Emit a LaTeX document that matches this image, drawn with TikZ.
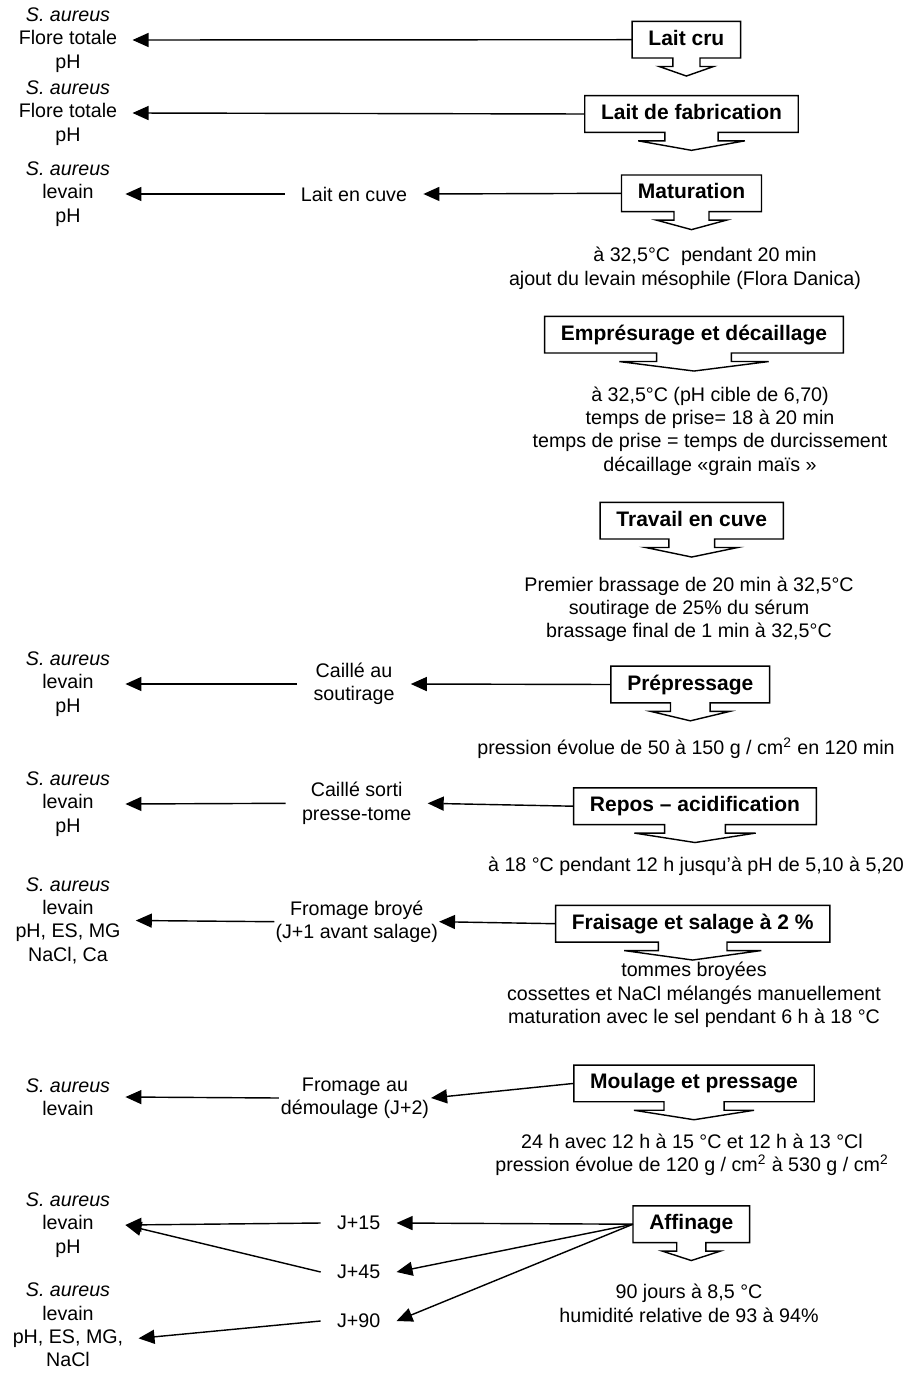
\documentclass[tikz,border=0pt]{standalone}
\usepackage{fontspec}
\setmainfont{Liberation Sans}
\usetikzlibrary{arrows.meta,calc}

\tikzset{
  stepbox/.style={font=\fontsize{12.6}{14}\selectfont\bfseries, inner xsep=9.6pt, inner ysep=0pt,
    minimum height=21.6pt, text height=9.2pt, text depth=2.6pt},
  note/.style={font=\fontsize{11.8}{14}\selectfont, align=center, inner sep=0pt},
  sample/.style={font=\fontsize{11.8}{14}\selectfont, align=center, inner xsep=9.6pt, inner ysep=0pt},
  result/.style={font=\fontsize{11.8}{14}\selectfont, align=center, inner xsep=9pt, inner ysep=0pt},
  outline/.style={line width=0.85pt},
  arr/.style={line width=0.85pt, -{Triangle[length=9.6pt,width=8.4pt]}}
}

\begin{document}
\begin{tikzpicture}[x=0.6pt, y=-0.6pt]
                \useasboundingbox (0,0) rectangle (905,1373);

                % Process steps
                \node[stepbox] (cru) at (686.4,39.7) {Lait cru};
                \node[stepbox] (fab) at (691.5,114) {Lait de fabrication};
                \node[stepbox] (mat) at (691.5,193.3) {Maturation};
                \node[stepbox] (emp) at (694,334.7) {Emprésurage et décaillage};
                \node[stepbox] (trav) at (691.7,520.7) {Travail en cuve};
                \node[stepbox] (prep) at (690.3,684.5) {Prépressage};
                \node[stepbox] (repos) at (695,806.2) {Repos – acidification};
                \node[stepbox] (frais) at (692.7,923.7) {Fraisage et salage à 2 \%};
                \node[stepbox] (moul) at (694,1083.4) {Moulage et pressage};
                \node[stepbox] (aff) at (691.3,1224.2) {Affinage};

                % Box outlines with the down arrow
                \foreach \b in {cru,fab,mat,emp,trav,prep,repos,frais,moul,aff}
                  \draw[outline] ($(\b.south)!0.25!(\b.south east)$) -- (\b.south east) -- (\b.north east)
                    -- (\b.north west) -- (\b.south west) -- ($(\b.south)!0.25!(\b.south west)$) -- ++(0,8.5)
                    -- ($(\b.south)!0.5!(\b.south west)+(0,8.5)$) -- ($(\b.south)+(0,18)$)
                    -- ($(\b.south)!0.5!(\b.south east)+(0,8.5)$) -- ($(\b.south)!0.25!(\b.south east)+(0,8.5)$) -- cycle;

                % Conditions of each step
                \node[note] (matnote) at (685,268.3) {\hspace*{24pt}à 32,5°C\ \ pendant 20 min\\ajout du levain mésophile (Flora Danica)};
                \node[note] (empnote) at (710,431) {à 32,5°C (pH cible de 6,70)\\temps de prise= 18 à 20 min\\temps de prise = temps de durcissement\\décaillage «grain maïs »};
                \node[note] (travnote) at (689,609.3) {Premier brassage de 20 min à 32,5°C\\soutirage de 25\% du sérum\\brassage final de 1 min à 32,5°C};
                \node[note] (prepnote) at (686,748.3) {pression évolue de 50 à 150 g / cm\textsuperscript{2} en 120 min};
                \node[note] (reposnote) at (696,866) {à 18 °C pendant 12 h jusqu’à pH de 5,10 à 5,20};
                \node[note] (fraisnote) at (694,995) {tommes broyées\\cossettes et NaCl mélangés manuellement\\maturation avec le sel pendant 6 h à 18 °C};
                \node[note] (moulnote) at (692,1155) {24 h avec 12 h à 15 °C et 12 h à 13 °Cl\\pression évolue de 120 g / cm\textsuperscript{2} à 530 g / cm\textsuperscript{2}};
                \node[note] (affnote) at (689,1303.5) {90 jours à 8,5 °C\\humidité relative de 93 à 94\%};

                % Samples taken
                \node[sample] (cuve) at (354,194) {Lait en cuve};
                \node[sample] (soutir) at (354,684) {Caillé au\\soutirage};
                \node[sample] (tome) at (356.7,803.3) {Caillé sorti\\presse-tome};
                \node[sample, inner xsep=0.5pt] (broye) at (356.7,921.7) {Fromage broyé\\(J+1 avant salage)};
                \node[sample, inner xsep=1pt] (demoul) at (355,1098) {Fromage au\\démoulage (J+2)};
                \node[sample] (j15) at (358.6,1223) {J+15};
                \node[sample] (j45) at (358.6,1272) {J+45};
                \node[sample] (j90) at (358.6,1321) {J+90};

                % Analyses
                \node[result] (ana1) at (68,40) {\textit{S. aureus}\\Flore totale\\pH};
                \node[result] (ana2) at (68,113) {\textit{S. aureus}\\Flore totale\\pH};
                \node[result] (ana3) at (68,194) {\textit{S. aureus}\\levain\\pH};
                \node[result] (ana4) at (68,684) {\textit{S. aureus}\\levain\\pH};
                \node[result] (ana5) at (68,804) {\textit{S. aureus}\\levain\\pH};
                \node[result] (ana6) at (68,920.5) {\textit{S. aureus}\\levain\\pH, ES, MG\\NaCl, Ca};
                \node[result] (ana7) at (68,1097) {\textit{S. aureus}\\levain};
                \node[result] (ana8) at (68,1225) {\textit{S. aureus}\\levain\\pH};
                \node[result] (ana9) at (68,1325) {\textit{S. aureus}\\levain\\pH, ES, MG,\\NaCl};

                % Arrows
                \draw[arr] (cru.west) -- (ana1.east);
                \draw[arr] (fab.west) -- (ana2.east);
                \draw[arr] (mat.west) -- (cuve.east);
                \draw[arr] (cuve.west) -- (ana3.east);
                \draw[arr] (prep.west) -- (soutir.east);
                \draw[arr] (soutir.west) -- (ana4.east);
                \draw[arr] (repos.west) -- (tome.east);
                \draw[arr] (tome.west) -- (ana5.east);
                \draw[arr] (frais.west) -- (broye.east);
                \draw[arr] (broye.west) -- (ana6.east);
                \draw[arr] (moul.west) -- (demoul.east);
                \draw[arr] (demoul.west) -- (ana7.east);
                \draw[arr] (aff.west) -- (j15.east);
                \draw[arr] (aff.west) -- (j45.east);
                \draw[arr] (aff.west) -- (j90.east);
                \draw[arr] (j15.west) -- (ana8.east);
                \draw[arr] (j45.west) -- (ana8.east);
                \draw[arr] (j90.west) -- ([yshift=-8pt]ana9.east);
            \end{tikzpicture}
\end{document}
